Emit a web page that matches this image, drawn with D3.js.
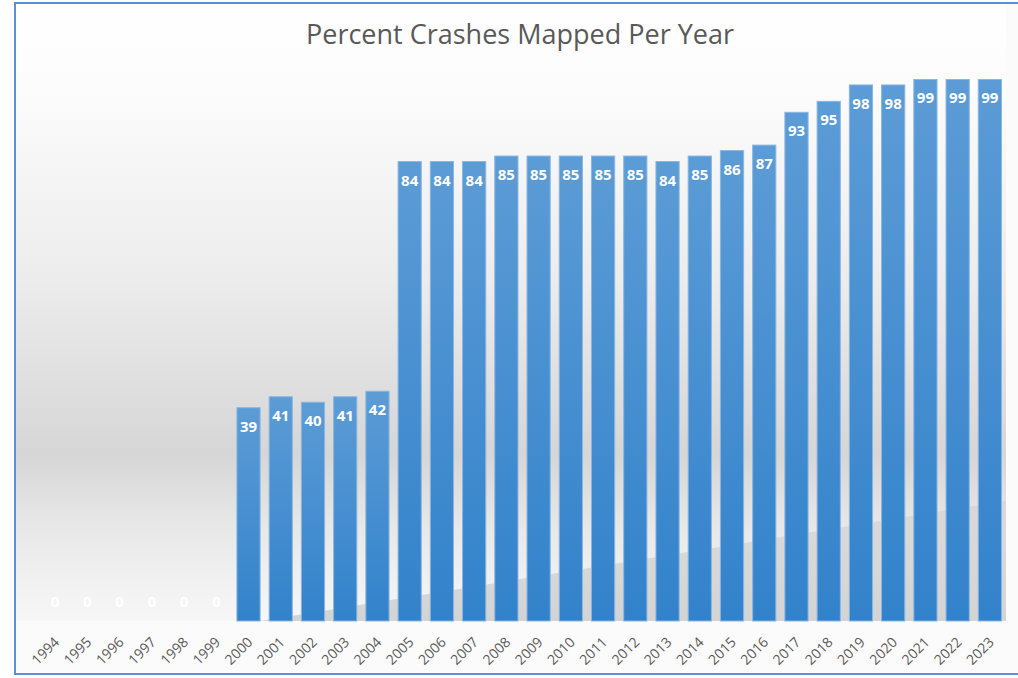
<!DOCTYPE html>
<html>
<head>
<meta charset="utf-8">
<script src="https://cdn.jsdelivr.net/npm/d3@7"></script>
<style>
    html, body { margin: 0; padding: 0; background: #ffffff; }
    svg { display: block; }
</style>
</head>
<body>
<script>
(function() {

    //////////////////
    // chart values //
    //////////////////
    var years = ["1994", "1995", "1996", "1997", "1998", "1999", "2000", "2001",
        "2002", "2003", "2004", "2005", "2006", "2007", "2008", "2009", "2010",
        "2011", "2012", "2013", "2014", "2015", "2016", "2017", "2018", "2019",
        "2020", "2021", "2022", "2023"];
    var pctMapped = [0, 0, 0, 0, 0, 0, 39, 41, 40, 41, 42, 84, 84, 84, 85, 85, 85,
        85, 85, 84, 85, 86, 87, 93, 95, 98, 98, 99, 99, 99];
    var chartTitleText = "Percent Crashes Mapped Per Year";

    // frame
    var width = 1018,
        height = 678,
        frameLeft = 15,
        frameTop = 3,
        frameBottom = 674,
        plotRight = 1006,
        baseline = 621,
        yTop = 74;

    var svg = d3.select("body")
        .append("svg")
        .attr("width", width)
        .attr("height", height);

    var defs = svg.append("defs");

    // background gradient of the chart area
    var bgGrad = defs.append("linearGradient")
        .attr("id", "bgGrad")
        .attr("x1", 0).attr("y1", 0)
        .attr("x2", 0).attr("y2", 1);
    [["0%", "#ffffff"], ["14%", "#fcfcfc"], ["45%", "#ececec"],
     ["73%", "#d6d6d6"], ["85%", "#e8e8e8"], ["100%", "#f7f7f7"]]
        .forEach(function(s) {
            bgGrad.append("stop").attr("offset", s[0]).attr("stop-color", s[1]);
        });

    // bar gradient
    var barGrad = defs.append("linearGradient")
        .attr("id", "barGrad")
        .attr("x1", 0).attr("y1", 0)
        .attr("x2", 0).attr("y2", 1);
    barGrad.append("stop").attr("offset", "0%").attr("stop-color", "#5c9cd6");
    barGrad.append("stop").attr("offset", "100%").attr("stop-color", "#3282cb");

    // shadow gradient
    var shGrad = defs.append("linearGradient")
        .attr("id", "shGrad")
        .attr("x1", 0).attr("y1", 0)
        .attr("x2", 0).attr("y2", 1);
    shGrad.append("stop").attr("offset", "0%").attr("stop-color", "#c4c4c4").attr("stop-opacity", 0.35);
    shGrad.append("stop").attr("offset", "100%").attr("stop-color", "#c4c4c4").attr("stop-opacity", 0.7);

    // scales
    var x = d3.scaleBand()
        .domain(years)
        .range([39, 1006])
        .paddingInner(0.28)
        .paddingOuter(0.14);

    var y = d3.scaleLinear()
        .domain([0, 100])
        .range([baseline, yTop]);

    // white page + plot background
    svg.append("rect")
        .attr("x", frameLeft)
        .attr("y", frameTop)
        .attr("width", width - frameLeft + 10)
        .attr("height", frameBottom - frameTop)
        .attr("fill", "#fbfbfb");

    svg.append("rect")
        .attr("class", "plotBackground")
        .attr("x", frameLeft)
        .attr("y", frameTop)
        .attr("width", plotRight - frameLeft)
        .attr("height", baseline - frameTop)
        .attr("fill", "url(#bgGrad)");

    // diagonal shadow under the bars (reflection effect)
    var shX0 = x("2000") + x.bandwidth(),
        shX1 = plotRight;
    svg.append("path")
        .attr("class", "shadow")
        .attr("d", "M" + shX0 + "," + baseline + " L" + shX1 + "," + y(22) +
            " L" + shX1 + "," + baseline + " Z")
        .attr("fill", "url(#shGrad)");

    var data = years.map(function(d, i) {
        return { year: d, value: pctMapped[i] };
    });

    // bars
    svg.selectAll(".bars")
        .data(data)
        .enter()
        .append("rect")
        .attr("class", "bars")
        .attr("x", function(d) { return x(d.year); })
        .attr("y", function(d) { return y(d.value); })
        .attr("width", x.bandwidth())
        .attr("height", function(d) { return baseline - y(d.value); })
        .attr("fill", "url(#barGrad)")
        .attr("stroke", function(d) { return d.value > 0 ? "#8ab6e3" : "none"; })
        .attr("stroke-width", 1);

    // value labels
    svg.selectAll(".numbers")
        .data(data)
        .enter()
        .append("text")
        .attr("class", "numbers")
        .attr("x", function(d) { return x(d.year) + x.bandwidth() / 2; })
        .attr("y", function(d) {
            return d.value > 0 ? y(d.value) + 24 : baseline - 14;
        })
        .attr("text-anchor", "middle")
        .style("font-family", "'Open Sans', 'Noto Sans', sans-serif")
        .style("font-weight", "bold")
        .style("font-size", "15px")
        .style("fill", "#ffffff")
        .text(function(d) { return d.value; });

    // x axis labels
    var xAxis = d3.axisBottom(x).tickSize(0).tickPadding(0);
    var axis = svg.append("g")
        .attr("class", "axis")
        .attr("transform", "translate(0," + baseline + ")")
        .call(xAxis);
    axis.select(".domain").remove();
    axis.selectAll(".tick text")
        .attr("y", 0)
        .attr("dy", 0)
        .attr("transform", "translate(5,22) rotate(-45)")
        .attr("text-anchor", "end")
        .style("font-family", "'Open Sans', 'Noto Sans', sans-serif")
        .style("font-size", "14px")
        .style("fill", "#595959");

    // title
    svg.append("text")
        .attr("class", "chartTitle")
        .attr("x", 520)
        .attr("y", 44)
        .attr("text-anchor", "middle")
        .style("font-family", "'Open Sans', 'Noto Sans', sans-serif")
        .style("font-size", "27px")
        .style("fill", "#595959")
        .text(chartTitleText);

    // frame border
    svg.append("rect")
        .attr("x", frameLeft)
        .attr("y", frameTop)
        .attr("width", width)
        .attr("height", frameBottom - frameTop)
        .attr("fill", "none")
        .attr("stroke", "#5f8fd2")
        .attr("stroke-width", 2);
})();
</script>
</body>
</html>
